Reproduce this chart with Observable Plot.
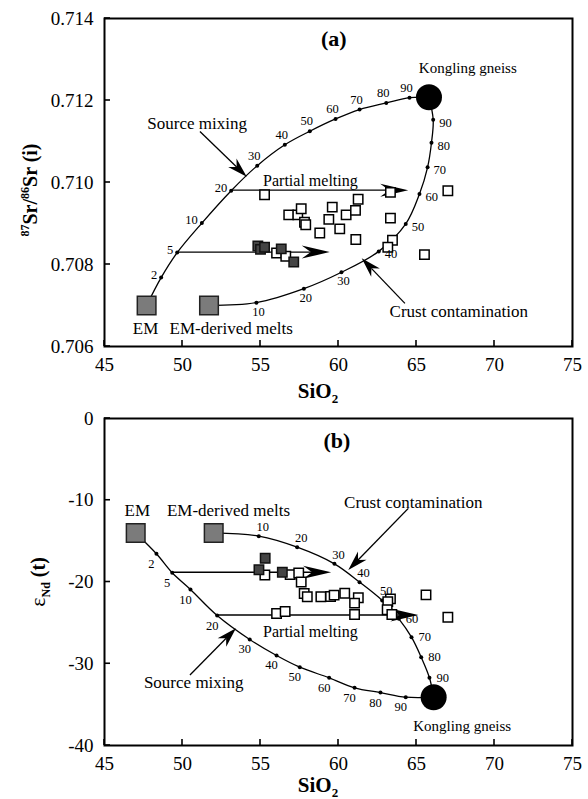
<!DOCTYPE html>
<html>
<head>
<meta charset="utf-8">
<script src="https://cdn.jsdelivr.net/npm/d3@7"></script>
<script src="https://cdn.jsdelivr.net/npm/@observablehq/plot@0.6"></script>
<style>
  body { margin: 0; background: #fff; }
  #chart svg { display: block; overflow: visible; }
</style>
</head>
<body>
<div id="chart"></div>
<script>
// ---- shared axis ticks ----
const ticksSi = [45, 50, 55, 60, 65, 70, 75];
const ticksSr = [0.706, 0.708, 0.710, 0.712, 0.714];
const ticksNd = [0, -10, -20, -30, -40];

// ---- model curves: fractions marked along each curve ----
const mixFrac = [2, 5, 10, 20, 30, 40, 50, 60, 70, 80, 90];      // source mixing (% crust)
const contFrac = [10, 20, 30, 40, 50, 60, 70, 80, 90];           // crust contamination (%)
const endNames = ["EM", "EM-derived melts", "Kongling gneiss"];

// ---- panel (a): SiO2 vs 87Sr/86Sr(i) ----
const endSiA = [47.7, 51.7, 65.8];
const endSrA = [0.7070, 0.7070, 0.71208];
const mixSiA = [48.63, 49.66, 51.24, 53.12, 54.79, 56.56, 58.16, 59.81, 61.35, 63.06, 64.55];
const mixSrA = [0.70768, 0.70829, 0.70901, 0.70980, 0.71041, 0.71092, 0.71125, 0.71155, 0.71178, 0.71194, 0.71207];
const contSiA = [54.74, 57.78, 60.19, 62.58, 64.31, 65.19, 65.71, 65.96, 66.07];
const contSrA = [0.70707, 0.70741, 0.70781, 0.70832, 0.70899, 0.70972, 0.71037, 0.71097, 0.71153];
const openSiA = [55.26, 56.81, 57.39, 57.61, 57.82, 57.90, 58.80, 59.38, 59.60, 60.08, 60.49, 61.09, 61.26, 61.11, 63.33, 63.46, 63.16, 65.51, 67.01, 63.33, 56.03, 56.62];
const openSrA = [0.70970, 0.70921, 0.70921, 0.70936, 0.70903, 0.70897, 0.70877, 0.70910, 0.70940, 0.70887, 0.70921, 0.70932, 0.70959, 0.70861, 0.70913, 0.70859, 0.70842, 0.70824, 0.70980, 0.70976, 0.70828, 0.70820];
const fillSiA = [54.83, 55.00, 55.26, 56.33, 57.13];
const fillSrA = [0.70845, 0.70837, 0.70842, 0.70838, 0.70806];
// partial-melting vectors start at these mixing fractions and end at these SiO2 values
const pmFromA = [20, 5];
const pmToSiA = [64.5, 59.47];

// ---- panel (b): SiO2 vs εNd(t) ----
const endSiB = [47.0, 52.0, 66.1];
const endNdB = [-14.0, -14.0, -34.1];
const mixSiB = [48.33, 49.34, 50.51, 52.22, 54.31, 56.03, 57.52, 59.40, 61.03, 62.69, 64.31];
const mixNdB = [-16.55, -18.87, -20.92, -24.1, -27.03, -28.99, -30.42, -31.72, -32.94, -33.52, -34.09];
const contSiB = [54.89, 57.35, 59.74, 61.35, 62.80, 63.87, 64.68, 65.30, 65.83];
const contNdB = [-14.39, -15.74, -17.78, -20.02, -22.26, -24.50, -26.75, -29.20, -31.72];
const openSiB = [55.28, 56.90, 57.45, 57.61, 57.80, 58.00, 58.87, 59.49, 59.72, 60.40, 61.27, 61.03, 61.03, 56.03, 56.58, 63.33, 63.16, 63.12, 63.42, 65.61, 67.01];
const openNdB = [-19.15, -19.1, -18.9, -20.0, -21.4, -21.8, -21.8, -21.77, -21.6, -21.37, -21.93, -22.59, -23.98, -23.85, -23.6, -22.06, -22.4, -23.4, -23.98, -21.57, -24.31];
const fillSiB = [54.9, 55.3, 56.4];
const fillNdB = [-18.5, -17.1, -18.8];
const pmFromB = [5, 20];
const pmToSiB = [59.56, 65.15];

// ---- annotation text & pointer arrows (data coordinates) ----
const notesA = {
  letter: [59.7, 0.7135],
  partial: [58.2, 0.71005],
  mixText: [50.94, 0.71143], mixArrow: [51.15, 0.71123, 54.15, 0.71013],
  contText: [67.71, 0.70686], contArrow: [64.29, 0.70704, 61.52, 0.70814],
  emText: [47.63, 0.70644], meltText: [53.12, 0.70644],
  gneissText: [68.29, 0.71279]
};
const notesB = {
  letter: [59.9, -2.7],
  partial: [58.2, -26.06],
  mixText: [50.72, -32.26], mixArrow: [50.51, -31.44, 53.46, -25.72],
  contText: [64.79, -10.24], contArrow: [64.51, -11.05, 60.66, -18.59],
  emText: [47.1, -11.25], meltText: [52.95, -11.25],
  gneissText: [67.93, -37.64]
};

const FONT = '"Liberation Serif", "Times New Roman", serif';

// Line with a filled, notched arrowhead drawn through the plot's own scales.
function arrows(list, {len, half, notch, width = 1.3}) {
  return (index, scales) => {
    const g = d3.create("svg:g");
    for (const a of list) {
      const x1 = scales.x(a.x1), y1 = scales.y(a.y1);
      const x2 = scales.x(a.x2), y2 = scales.y(a.y2);
      const ang = Math.atan2(y2 - y1, x2 - x1);
      const back = len - notch;
      g.append("line")
        .attr("x1", x1).attr("y1", y1)
        .attr("x2", x2 - back * Math.cos(ang)).attr("y2", y2 - back * Math.sin(ang))
        .attr("stroke", "#000").attr("stroke-width", width);
      g.append("path")
        .attr("d", `M0,0L${-len},${-half}L${-back},0L${-len},${half}Z`)
        .attr("transform", `translate(${x2},${y2}) rotate(${ang * 180 / Math.PI})`)
        .attr("fill", "#000");
    }
    return g.node();
  };
}

// Short inward tick marks along the bottom and left edges of the frame.
function inwardTicks(xs, ys, size = 6) {
  return (index, scales, values, dims) => {
    const g = d3.create("svg:g").attr("stroke", "#000").attr("stroke-width", 1.6);
    const bottom = dims.height - dims.marginBottom;
    const left = dims.marginLeft;
    for (const v of xs) {
      const x = scales.x(v);
      g.append("line").attr("x1", x).attr("x2", x).attr("y1", bottom).attr("y2", bottom - size);
    }
    for (const v of ys) {
      const y = scales.y(v);
      g.append("line").attr("x1", left).attr("x2", left + size).attr("y1", y).attr("y2", y);
    }
    return g.node();
  };
}

function panel(o) {
  const mix = mixFrac.map((f, i) => ({f, x: o.mixX[i], y: o.mixY[i]}));
  const cont = contFrac.map((f, i) => ({f, x: o.contX[i], y: o.contY[i]}));
  const ends = endNames.map((n, i) => ({n, x: o.endX[i], y: o.endY[i]}));
  const mixLine = [ends[0], ...mix, ends[2]];
  const contLine = [ends[1], ...cont, ends[2]];
  const open = o.openX.map((x, i) => ({x, y: o.openY[i]}));
  const filled = o.fillX.map((x, i) => ({x, y: o.fillY[i]}));
  const pm = o.pmFrom.map((f, i) => {
    const p = mix.find(d => d.f === f);
    return {x1: p.x, y1: p.y, x2: o.pmTo[i], y2: p.y};
  });
  const n = o.notes;
  const pointers = [
    {x1: n.mixArrow[0], y1: n.mixArrow[1], x2: n.mixArrow[2], y2: n.mixArrow[3]},
    {x1: n.contArrow[0], y1: n.contArrow[1], x2: n.contArrow[2], y2: n.contArrow[3]}
  ];
  const note = (txt, p, extra = {}) =>
    Plot.text([txt], {x: () => p[0], y: () => p[1], text: d => d, fontSize: 17, ...extra});

  return Plot.plot({
    width: 588,
    height: o.height,
    marginLeft: 104,
    marginRight: 16,
    marginTop: o.mt,
    marginBottom: o.mb,
    style: {fontFamily: FONT, fontSize: "19px", color: "#000", background: "#fff", overflow: "visible"},
    x: {domain: [45, 75], label: null},
    y: {domain: o.yDomain, label: null},
    marks: [
      Plot.axisX({ticks: ticksSi, tickSize: 0, tickPadding: 11, tickFormat: d => String(d), label: null}),
      Plot.axisY({ticks: o.yTicks, tickSize: 0, tickPadding: 11, tickFormat: o.yFormat, label: null}),
      inwardTicks(ticksSi, o.yTicks),
      Plot.frame({stroke: "#000", strokeWidth: 2}),
      Plot.line(mixLine, {x: "x", y: "y", curve: "catmull-rom", stroke: "#000", strokeWidth: 1.3}),
      Plot.line(contLine, {x: "x", y: "y", curve: "catmull-rom", stroke: "#000", strokeWidth: 1.3}),
      Plot.dot([...mix, ...cont], {x: "x", y: "y", r: 2, fill: "#000"}),
      arrows(pm, {len: 28, half: 6.5, notch: 9}),
      arrows(pointers, {len: 20, half: 6, notch: 6}),
      Plot.dot(open, {x: "x", y: "y", symbol: "square", r: 5.3, fill: "#fff", stroke: "#000", strokeWidth: 1.5}),
      Plot.dot(filled, {x: "x", y: "y", symbol: "square", r: 5.3, fill: "#444", stroke: "#111", strokeWidth: 1.5}),
      Plot.dot(ends.slice(0, 2), {x: "x", y: "y", symbol: "square", r: 10.5, fill: "#7b7b7b", stroke: "#222", strokeWidth: 1.5}),
      Plot.dot(ends.slice(2), {x: "x", y: "y", r: 13, fill: "#000"}),
      // fraction labels along the curves
      ...o.fracLabels(mix, cont),
      // annotations
      note(o.letter, n.letter, {fontSize: 22, fontWeight: "bold"}),
      note("Partial melting", n.partial, {fontSize: 16}),
      note("Source mixing", n.mixText),
      note("Crust contamination", n.contText),
      note("EM", n.emText),
      note("EM-derived melts", n.meltText),
      note("Kongling gneiss", n.gneissText, {fontSize: 15})
    ]
  });
}

const fracStyle = {x: "x", y: "y", text: "f", fontSize: 12.5};

const svgA = panel({
  height: 406, mt: 18, mb: 60,
  yDomain: [0.706, 0.714], yTicks: ticksSr, yFormat: d3.format(".3f"),
  endX: endSiA, endY: endSrA, mixX: mixSiA, mixY: mixSrA, contX: contSiA, contY: contSrA,
  openX: openSiA, openY: openSrA, fillX: fillSiA, fillY: fillSrA,
  pmFrom: pmFromA, pmTo: pmToSiA, notes: notesA, letter: "(a)",
  fracLabels: (mix, cont) => [
    Plot.text(mix.filter(d => d.f <= 20), {...fracStyle, textAnchor: "end", dx: -4, dy: -3}),
    Plot.text(mix.filter(d => d.f > 20), {...fracStyle, dx: -3, dy: -10}),
    Plot.text(cont.filter(d => d.f <= 30), {...fracStyle, dx: 2, dy: 9}),
    Plot.text(cont.filter(d => d.f > 30), {...fracStyle, textAnchor: "start", dx: 6, dy: 3})
  ]
});

const svgB = panel({
  height: 393, mt: 12, mb: 54,
  yDomain: [-40, 0], yTicks: ticksNd, yFormat: d => String(d),
  endX: endSiB, endY: endNdB, mixX: mixSiB, mixY: mixNdB, contX: contSiB, contY: contNdB,
  openX: openSiB, openY: openNdB, fillX: fillSiB, fillY: fillNdB,
  pmFrom: pmFromB, pmTo: pmToSiB, notes: notesB, letter: "(b)",
  fracLabels: (mix, cont) => [
    Plot.text(mix, {...fracStyle, dx: -5, dy: 10}),
    Plot.text(cont.filter(d => d.f <= 50), {...fracStyle, dx: 4, dy: -9}),
    Plot.text(cont.filter(d => d.f > 50), {...fracStyle, textAnchor: "start", dx: 7, dy: 0})
  ]
});

// Axis titles with sub/superscripts
function xTitle(svg, y) {
  const t = d3.select(svg).append("text")
    .attr("x", 318).attr("y", y).attr("text-anchor", "middle")
    .attr("font-family", FONT).attr("font-weight", "bold").attr("font-size", 21).attr("fill", "#000");
  t.append("tspan").text("SiO");
  t.append("tspan").attr("font-size", 13).attr("dy", 5).text("2");
}
xTitle(svgA, 398);
xTitle(svgB, 386);

{
  const t = d3.select(svgA).append("text")
    .attr("transform", "translate(37,190) rotate(-90)").attr("text-anchor", "middle")
    .attr("font-family", FONT).attr("font-weight", "bold").attr("font-size", 20).attr("fill", "#000");
  t.append("tspan").attr("font-size", 12).attr("dy", -8).text("87");
  t.append("tspan").attr("dy", 8).text("Sr/");
  t.append("tspan").attr("font-size", 12).attr("dy", -8).text("86");
  t.append("tspan").attr("dy", 8).text("Sr (i)");
}
{
  const t = d3.select(svgB).append("text")
    .attr("transform", "translate(45,176) rotate(-90)").attr("text-anchor", "middle")
    .attr("font-family", FONT).attr("font-weight", "bold").attr("font-size", 20).attr("fill", "#000");
  t.append("tspan").attr("font-weight", "normal").attr("font-size", 22).text("ε");
  t.append("tspan").attr("font-size", 12).attr("dy", 5).text("Nd");
  t.append("tspan").attr("dy", -5).text(" (t)");
}

document.getElementById("chart").append(svgA, svgB);
</script>
</body>
</html>
